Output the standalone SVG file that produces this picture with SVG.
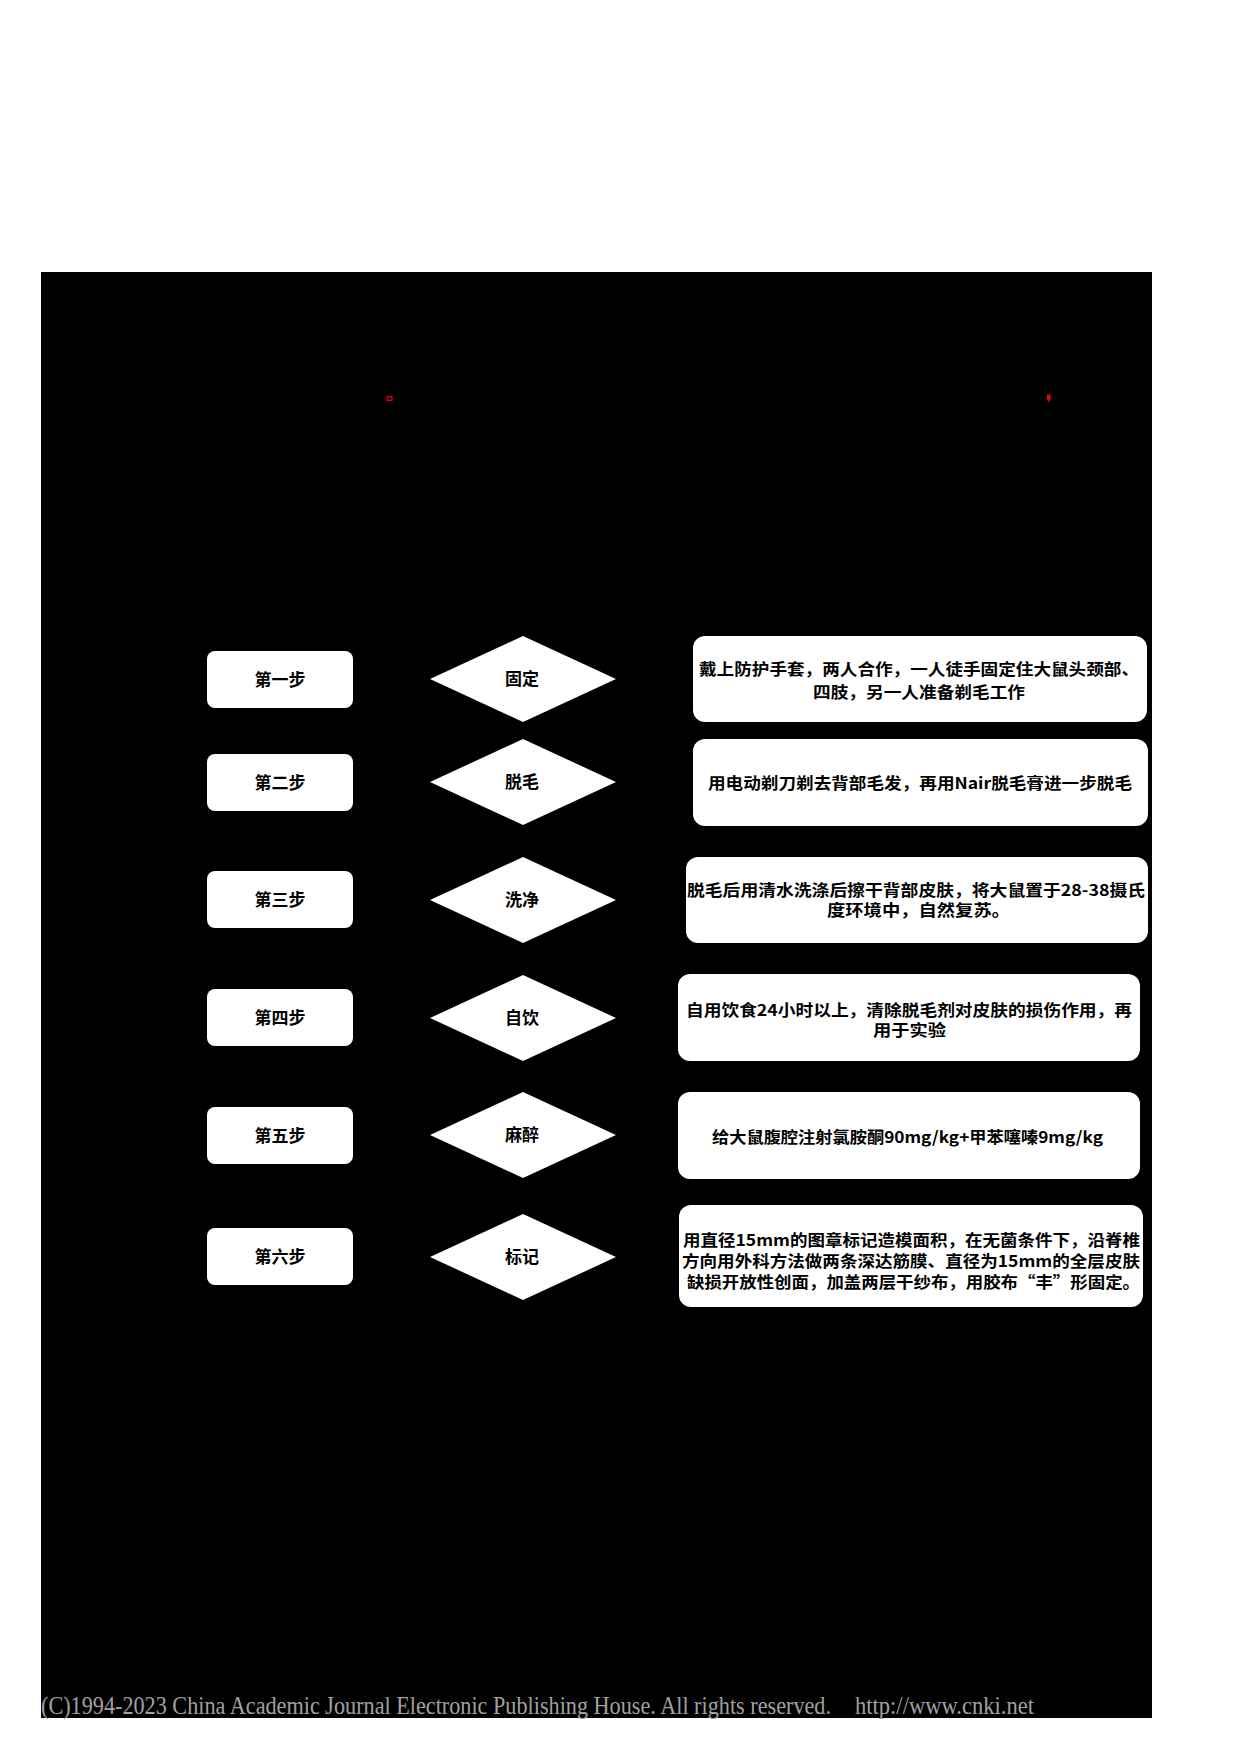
<svg xmlns="http://www.w3.org/2000/svg" width="1240" height="1754" viewBox="0 0 1240 1754">
<style>
.bg{fill:#000}
.box{fill:#fff;stroke:none}
.dia{fill:#fff;stroke:none}
.t{font-family:"Noto Sans CJK SC","Noto Sans",sans-serif;font-size:16px;font-weight:bold;fill:#000}
.lbl{font-family:"Noto Sans CJK SC","Noto Sans",sans-serif;font-size:17px;font-weight:bold;fill:#000;text-anchor:middle}
.foot{font-family:"Liberation Serif","Times New Roman",serif;font-size:25px;fill:#a0a0a0}
</style>
<rect width="1240" height="1754" fill="#fff"/>
<rect class="bg" x="41" y="272" width="1111" height="1446"/>
<rect x="387" y="396.5" width="5" height="4" fill="#200" stroke="#e00010" stroke-width="1.2"/>
<path d="M1047 394.5 h3.5 v5 l-1.5 2.5 h-1 l0.8 -2.2 h-1.8 z" fill="#f00010"/>
<g id="connectors"></g>
<g id="step1">
<rect class="box" x="207" y="651" width="146" height="57" rx="8"/>
<text class="lbl" x="280" y="685.5">第一步</text>
</g>
<g id="step2">
<rect class="box" x="207" y="754" width="146" height="57" rx="8"/>
<text class="lbl" x="280" y="788.5">第二步</text>
</g>
<g id="step3">
<rect class="box" x="207" y="871" width="146" height="57" rx="8"/>
<text class="lbl" x="280" y="905.5">第三步</text>
</g>
<g id="step4">
<rect class="box" x="207" y="989" width="146" height="57" rx="8"/>
<text class="lbl" x="280" y="1023.5">第四步</text>
</g>
<g id="step5">
<rect class="box" x="207" y="1107" width="146" height="57" rx="8"/>
<text class="lbl" x="280" y="1141.5">第五步</text>
</g>
<g id="step6">
<rect class="box" x="207" y="1228" width="146" height="57" rx="8"/>
<text class="lbl" x="280" y="1262.5">第六步</text>
</g>
<g id="d1"><polygon class="dia" points="430,679 523,636 616,679 523,722"/><text class="lbl" x="522" y="685">固定</text></g>
<g id="d2"><polygon class="dia" points="430,782 523,739 616,782 523,825"/><text class="lbl" x="522" y="788">脱毛</text></g>
<g id="d3"><polygon class="dia" points="430,900 523,857 616,900 523,943"/><text class="lbl" x="522" y="906">洗净</text></g>
<g id="d4"><polygon class="dia" points="430,1018 523,975 616,1018 523,1061"/><text class="lbl" x="522" y="1024">自饮</text></g>
<g id="d5"><polygon class="dia" points="430,1135 523,1092 616,1135 523,1178"/><text class="lbl" x="522" y="1141">麻醉</text></g>
<g id="d6"><polygon class="dia" points="430,1257 523,1214 616,1257 523,1300"/><text class="lbl" x="522" y="1263">标记</text></g>
<g id="r1">
<rect class="box" x="693" y="636" width="454" height="86" rx="12"/>
<text class="t" x="699" y="675" textLength="440" lengthAdjust="spacingAndGlyphs">戴上防护手套，两人合作，一人徒手固定住大鼠头颈部、</text>
<text class="t" x="813" y="698" textLength="212" lengthAdjust="spacingAndGlyphs">四肢，另一人准备剃毛工作</text>
</g>
<g id="r2">
<rect class="box" x="693" y="739" width="455" height="87" rx="12"/>
<text class="t" x="708" y="789" textLength="424" lengthAdjust="spacingAndGlyphs">用电动剃刀剃去背部毛发，再用Nair脱毛膏进一步脱毛</text>
</g>
<g id="r3">
<rect class="box" x="686" y="857" width="462" height="86" rx="12"/>
<text class="t" x="687" y="896" textLength="458" lengthAdjust="spacingAndGlyphs">脱毛后用清水洗涤后擦干背部皮肤，将大鼠置于28-38摄氏</text>
<text class="t" x="827" y="916" textLength="183" lengthAdjust="spacingAndGlyphs">度环境中，自然复苏。</text>
</g>
<g id="r4">
<rect class="box" x="678" y="974" width="462" height="87" rx="12"/>
<text class="t" x="686" y="1016" textLength="446" lengthAdjust="spacingAndGlyphs">自用饮食24小时以上，清除脱毛剂对皮肤的损伤作用，再</text>
<text class="t" x="873" y="1036" textLength="73" lengthAdjust="spacingAndGlyphs">用于实验</text>
</g>
<g id="r5">
<rect class="box" x="678" y="1092" width="462" height="87" rx="12"/>
<text class="t" x="712" y="1143" textLength="391" lengthAdjust="spacingAndGlyphs">给大鼠腹腔注射氯胺酮90mg/kg+甲苯噻嗪9mg/kg</text>
</g>
<g id="r6">
<rect class="box" x="679" y="1205" width="464" height="102" rx="12"/>
<text class="t" x="683" y="1246" textLength="457" lengthAdjust="spacingAndGlyphs">用直径15mm的图章标记造模面积，在无菌条件下，沿脊椎</text>
<text class="t" x="682" y="1267" textLength="458" lengthAdjust="spacingAndGlyphs">方向用外科方法做两条深达筋膜、直径为15mm的全层皮肤</text>
<text class="t" x="687" y="1287.5" textLength="453" lengthAdjust="spacingAndGlyphs">缺损开放性创面，加盖两层干纱布，用胶布“丰”形固定。</text>
</g>
<g id="footer">
<text class="foot" y="1714"><tspan x="41" textLength="790" lengthAdjust="spacingAndGlyphs">(C)1994-2023 China Academic Journal Electronic Publishing House. All rights reserved.</tspan><tspan x="855" textLength="179" lengthAdjust="spacingAndGlyphs">http://www.cnki.net</tspan></text>
</g>
</svg>
